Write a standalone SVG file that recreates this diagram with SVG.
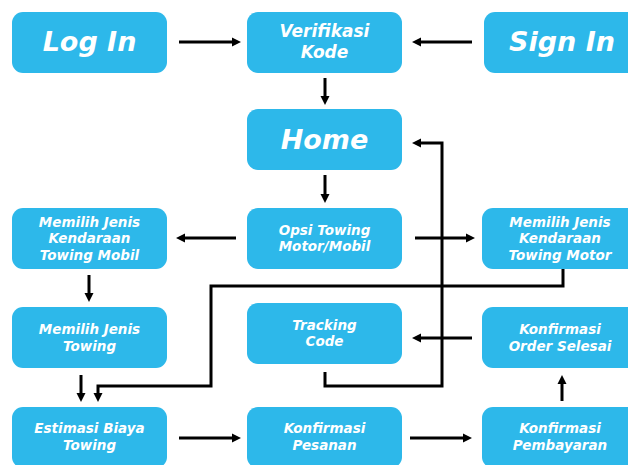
<svg xmlns="http://www.w3.org/2000/svg" width="628" height="465" viewBox="0 0 628 465">
<defs>
<style>
.box{fill:#2DB8EA;}
.t{font-family:"DejaVu Sans","Liberation Sans",sans-serif;font-weight:bold;font-style:italic;fill:#ffffff;text-anchor:middle;}
.big{font-size:27px;}
.mid{font-size:17px;}
.sm{font-size:13.5px;}
.c{fill:none;stroke:#000;stroke-width:3;stroke-linejoin:miter;marker-end:url(#ah);}
</style>
<marker id="ah" markerUnits="userSpaceOnUse" markerWidth="10" markerHeight="10" refX="3" refY="5" orient="auto">
<path d="M0,0.5 L9,5 L0,9.5 z" fill="#000"/>
</marker>
</defs>
<rect width="628" height="465" fill="#ffffff"/>
<g id="connectors">
<path class="c" d="M179,42 H235"/>
<path class="c" d="M472,42 H418"/>
<path class="c" d="M325,78 V99"/>
<path class="c" d="M325,175 V197"/>
<path class="c" d="M236,238 H182"/>
<path class="c" d="M415,238 H469"/>
<path class="c" d="M89,275 V296"/>
<path class="c" d="M81,375 V396"/>
<path class="c" d="M563,269 V286 H211 V386 H98 V396"/>
<path class="c" d="M472,338 H418"/>
<path class="c" d="M325,372 V386 H442 V143 H418"/>
<path class="c" d="M179,438 H235"/>
<path class="c" d="M410,438 H466"/>
<path class="c" d="M562,401 V381"/>
</g>
<g id="login"><rect class="box" x="12" y="12" width="155" height="61" rx="11"/><text class="t big" x="89.5" y="51">Log In</text></g>
<g id="verifikasi"><rect class="box" x="247" y="12" width="155" height="61" rx="11"/><text class="t mid" x="324.5" y="37">Verifikasi</text><text class="t mid" x="324.5" y="58">Kode</text></g>
<g id="signin"><rect class="box" x="484" y="12" width="156" height="61" rx="11"/><text class="t big" x="562" y="51">Sign In</text></g>
<g id="home"><rect class="box" x="247" y="109" width="155" height="61" rx="11"/><text class="t big" x="324.5" y="149">Home</text></g>
<g id="opsi"><rect class="box" x="247" y="208" width="155" height="61" rx="11"/><text class="t sm" x="324.5" y="235">Opsi Towing</text><text class="t sm" x="324.5" y="251">Motor/Mobil</text></g>
<g id="mobil"><rect class="box" x="12" y="208" width="155" height="61" rx="11"/><text class="t sm" x="89.5" y="226.5">Memilih Jenis</text><text class="t sm" x="89.5" y="243">Kendaraan</text><text class="t sm" x="89.5" y="259.5">Towing Mobil</text></g>
<g id="motor"><rect class="box" x="482" y="208" width="158" height="61" rx="11"/><text class="t sm" x="560" y="226.5">Memilih Jenis</text><text class="t sm" x="560" y="243">Kendaraan</text><text class="t sm" x="560" y="259.5">Towing Motor</text></g>
<g id="jenistowing"><rect class="box" x="12" y="307" width="155" height="61" rx="11"/><text class="t sm" x="89.5" y="334">Memilih Jenis</text><text class="t sm" x="89.5" y="350.5">Towing</text></g>
<g id="tracking"><rect class="box" x="247" y="303" width="155" height="61" rx="11"/><text class="t sm" x="324.5" y="329.5">Tracking</text><text class="t sm" x="324.5" y="346">Code</text></g>
<g id="orderselesai"><rect class="box" x="482" y="307" width="158" height="61" rx="11"/><text class="t sm" x="560" y="334">Konfirmasi</text><text class="t sm" x="560" y="350.5">Order Selesai</text></g>
<g id="estimasi"><rect class="box" x="12" y="407" width="155" height="61" rx="11"/><text class="t sm" x="89.5" y="433">Estimasi Biaya</text><text class="t sm" x="89.5" y="450">Towing</text></g>
<g id="pesanan"><rect class="box" x="247" y="407" width="155" height="61" rx="11"/><text class="t sm" x="324.5" y="433">Konfirmasi</text><text class="t sm" x="324.5" y="450">Pesanan</text></g>
<g id="pembayaran"><rect class="box" x="482" y="407" width="158" height="61" rx="11"/><text class="t sm" x="560" y="433">Konfirmasi</text><text class="t sm" x="560" y="450">Pembayaran</text></g>
</svg>
